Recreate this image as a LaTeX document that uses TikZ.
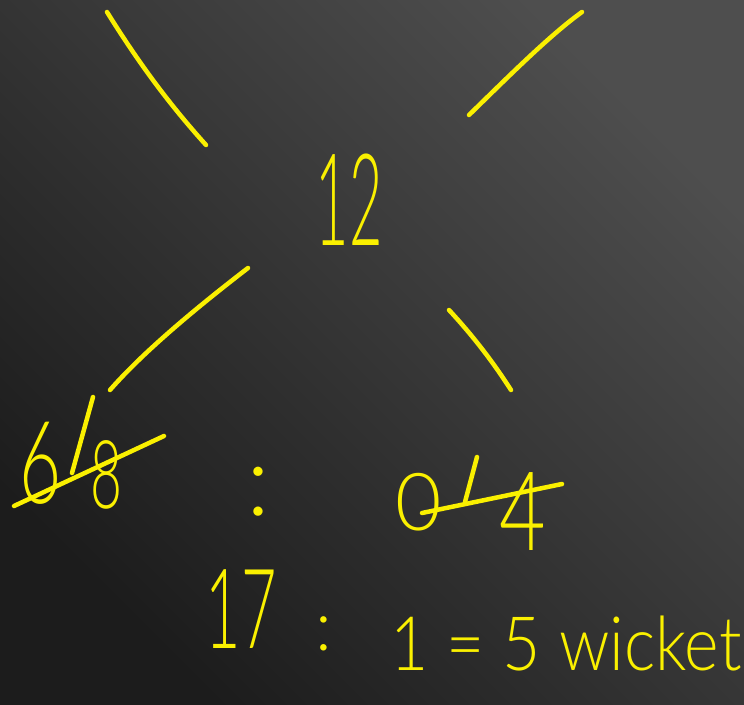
\documentclass[tikz,border=0pt]{standalone}
\usepackage{fontspec}
\usepackage{graphicx}
\newfontfamily\hand{Lato Light}
\definecolor{hand}{RGB}{250,240,0}
\definecolor{bgdark}{RGB}{28,28,28}
\definecolor{bglight}{RGB}{78,78,78}
\tikzset{
  stroke/.style={draw=hand, line width=4.5pt, line cap=round, line join=round},
  hw/.style={text=hand, inner sep=0pt, anchor=base, font=\hand\fontsize{#1}{#1}\selectfont},
}
\begin{document}
\begin{tikzpicture}[x=1pt,y=-1pt]
\useasboundingbox (0,0) rectangle (744,704);
\shade[top color=bglight, bottom color=bgdark, shading angle=-45] (0,704) rectangle (744,0);
% branch strokes
\coordinate (tl1) at (107,12); \coordinate (tl2) at (206,145);
\coordinate (tr1) at (582,12); \coordinate (tr2) at (469,115);
\coordinate (bl1) at (248,268); \coordinate (bl2) at (110,390);
\coordinate (br1) at (449,310); \coordinate (br2) at (511,390);
\draw[stroke] (tl1) .. controls (140,65) and (170,105) .. (tl2);
\draw[stroke] (tr1) .. controls (550,35) and (510,75) .. (tr2);
\draw[stroke] (bl1) .. controls (200,305) and (145,350) .. (bl2);
\draw[stroke] (br1) .. controls (475,338) and (495,365) .. (br2);
% top number
\node[hw=128] (n12) at (349,245) {\scalebox{0.45}[1]{12}};
% left struck number
\node[hw=115] (n6) at (41,503) {\scalebox{0.63}[1]{6}};
\node[hw=95] (n8) at (106,508) {\scalebox{0.58}[1]{8}};
\coordinate (t6a) at (93,397); \coordinate (t6b) at (72,473);
\draw[stroke] (t6a) -- (t6b);
\coordinate (s6a) at (14,506); \coordinate (s6b) at (164,436);
\draw[stroke] (s6a) -- (s6b);
% colon
\node[hw=100] (c1) at (258,515) {:};
% right struck number
\node[hw=80] (n0) at (419,530) {0};
\node[hw=110] (n4) at (523,550) {\scalebox{0.73}[1]{4}};
\coordinate (t0a) at (477,457); \coordinate (t0b) at (465,502);
\draw[stroke] (t0a) -- (t0b);
\coordinate (s0a) at (422,513); \coordinate (s0b) at (562,484);
\draw[stroke] (s0a) -- (s0b);
% bottom line
\node[hw=111] (n17) at (241,648) {\scalebox{0.55}[1]{17}};
\node[hw=70] (c2) at (324,650) {:};
\node[hw=75] (res) at (566,670) {\scalebox{0.88}[1]{1 = 5 wicket}};
\end{tikzpicture}
\end{document}
